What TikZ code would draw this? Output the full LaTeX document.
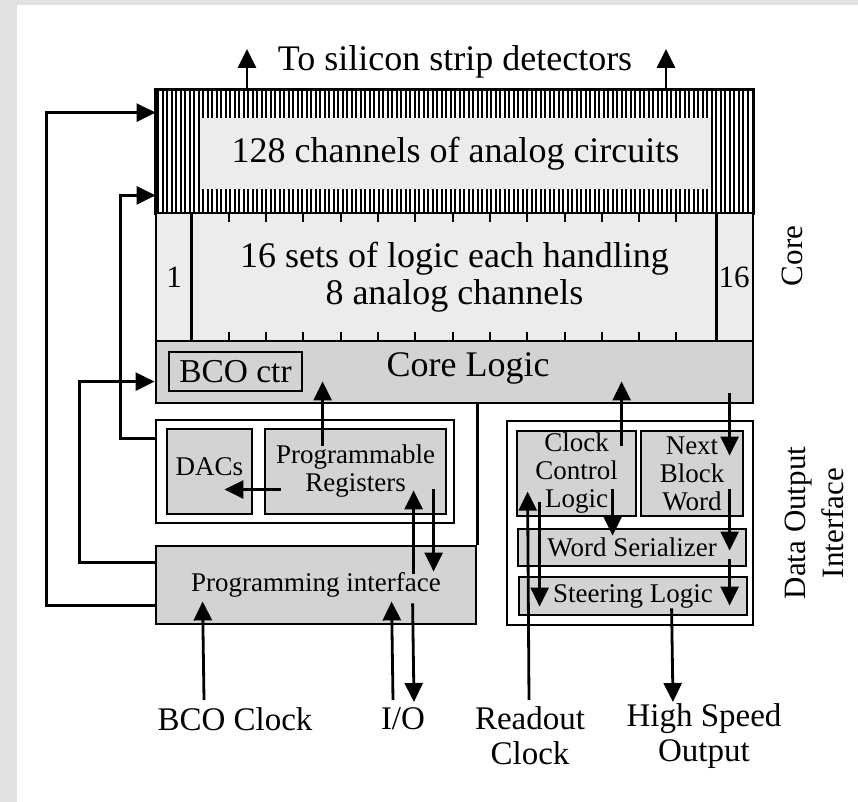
\documentclass[tikz,border=0pt]{standalone}
\usepackage{fontspec}
\setmainfont{Liberation Serif}
\usetikzlibrary{arrows.meta,calc}

\definecolor{chipgray}{RGB}{211,211,211}
\definecolor{chiplight}{RGB}{236,236,236}
\definecolor{paper}{RGB}{226,226,226}

\begin{document}
\begin{tikzpicture}[
    x=0.5pt, y=-0.5pt,
    % ---- styles -------------------------------------------------
    blk/.style={draw=black, line width=1.4pt, fill=chipgray,
        inner sep=0pt, align=center},
    frame/.style={blk, fill=white},
    lightblk/.style={blk, fill=chiplight},
    big/.style={font=\fontsize{18pt}{18.5pt}\selectfont},
    small/.style={font=\fontsize{13.5pt}{14pt}\selectfont},
    iolbl/.style={font=\fontsize{16.5pt}{17.5pt}\selectfont,
        align=center, inner sep=0pt},
    side/.style={font=\fontsize{15.5pt}{19pt}\selectfont,
        rotate=90, align=center, inner sep=0pt},
    sig/.style={-{Triangle[length=9.5pt,width=9pt]}, line width=1.4pt},
    tickmark/.style={line width=1pt},
]

% =================== page =====================================
\useasboundingbox (0,0) rectangle (858,802);
\fill[white] (0,0) rectangle (858,802);
\fill[paper] (0,0) rectangle (17,802);
\fill[paper] (0,0) rectangle (858,5);

% =================== CORE (top) ===============================
\node[minimum width=298.5pt, minimum height=61.5pt, inner sep=0pt] (analog) at (454.5,151.5) {};
\foreach \x in {2.5,7,...,595}
    \draw[line width=1pt] ($(analog.north west)+(\x,0)$) -- ($(analog.south west)+(\x,0)$);
\draw[line width=1.4pt] (analog.north west) rectangle (analog.south east);
\node[minimum width=255.5pt, minimum height=35.5pt, inner sep=0pt, fill=chiplight, big]
    (anacore) at (455.5,153.5) {128 channels of analog circuits};

\node[lightblk, big, minimum width=298.5pt, minimum height=64pt] (sets) at (454.5,277)
    {16 sets of logic each handling\\ 8 analog channels};
\draw[line width=1.4pt] ($(sets.north west)+(37,0)$) -- ($(sets.south west)+(37,0)$);
\draw[line width=1.4pt] ($(sets.north east)+(-38,0)$) -- ($(sets.south east)+(-38,0)$);
\foreach \k in {1,...,13} {
    \draw[tickmark] ($(sets.north west)+(37+\k*37.29,0)$) -- ++(0,10);
    \draw[tickmark] ($(sets.south west)+(37+\k*37.29,0)$) -- ++(0,-10);
}
\node[font=\fontsize{15.5pt}{16pt}\selectfont] (first) at (174,277) {1};
\node[font=\fontsize{15.5pt}{16pt}\selectfont] (last)  at (734,277) {16};

\node[blk, minimum width=298.5pt, minimum height=31pt] (core) at (454.5,372) {};
\node[big] (corename) at (468,368) {Core Logic};
\node[blk, minimum width=66.5pt, minimum height=19.5pt,
      font=\fontsize{16.7pt}{17pt}\selectfont] (bco) at (235.5,371.5) {BCO ctr};

% =================== programming side (left) ==================
\node[frame, minimum width=149pt, minimum height=51.5pt] (regs) at (305,471.5) {};
\node[blk, small, minimum width=42.5pt, minimum height=42.5pt, text depth=5pt]
    (dacs) at (209.5,471.5) {DACs};
\node[blk, small, minimum width=90.5pt, minimum height=42.5pt] (preg) at (355.5,471.5)
    {Programmable\\ Registers};
\node[blk, small, minimum width=160pt, minimum height=39pt] (progif) at (316,585)
    {Programming interface};
\draw[line width=1.4pt] (progif.north east) -- (progif.north east |- core.south);

% =================== data output interface (right) ============
\node[frame, minimum width=123pt, minimum height=102pt] (doi) at (630,523) {};
\node[blk, small, minimum width=59.5pt, minimum height=42.5pt] (ccl) at (576.5,473.5)
    {Clock\\ Control\\ Logic};
\node[blk, small, minimum width=51pt, minimum height=42.5pt] (nbw) at (692,473.5)
    {Next\\ Block\\ Word};
\node[blk, small, minimum width=114pt, minimum height=18.5pt] (ws) at (632,547.5)
    {Word Serializer};
\node[blk, small, minimum width=114pt, minimum height=19pt] (steer) at (633,596)
    {Steering Logic};

% =================== labels ===================================
\node[big] (dest) at (455,62) {To silicon strip detectors};
\node[side] (corelbl) at (792,256) {Core};
\node[side] (doilbl) at (814,523) {Data Output\\ Interface};

\node[iolbl] (bcoclk) at (235,719) {BCO Clock};
\node[iolbl] (io) at (403,719) {I/O};
\node[iolbl] (rdclk) at (530,736) {Readout\\ Clock};
\node[iolbl] (hso) at (704,736) {High Speed\\ Output};

\coordinate (det1) at (247,49);
\coordinate (det2) at (666,49);
\coordinate (bcoin) at (204,700);
\coordinate (ioin) at (393,700);
\coordinate (ioout) at (414,702);
\coordinate (rdin) at (529,700);
\coordinate (hsout) at (673,702);

% =================== connections ==============================
\draw[sig] (det1 |- analog.north) -- (det1);
\draw[sig] (det2 |- analog.north) -- (det2);

\draw[sig] ($(progif.south west)+(0,-20)$) -- ++(-108,0) |- ($(analog.north west)+(0,23)$);
\draw[sig] ($(progif.north west)+(0,18)$) -- ++(-75,0) |- ($(core.north west)+(0,42)$);
\draw[sig] ($(regs.north west)+(0,20)$) -- ++(-34,0) |- ($(analog.south west)+(0,-18)$);

\draw[sig] ($(preg.north west)+(59,18)$) -- ($(core.south west)+(168,-23)$);
\draw[sig] ($(preg.west)+(17,18)$) -- ($(dacs.east)+(-29,18)$);
\draw[sig] ($(progif.north west)+(259,29)$) -- ($(preg.south west)+(150,-25)$);
\draw[sig] ($(preg.south west)+(170,-26)$) -- ($(progif.north west)+(279,27)$);

\draw[sig] (bcoin) -- ($(progif.south west)+(48,-24)$);
\draw[sig] (ioin) -- ($(progif.south west)+(237,-24)$);
\draw[sig] ($(progif.south west)+(258,-22)$) -- (ioout);

\draw[sig] ($(ccl.north west)+(106,16)$) -- ($(core.south west)+(467,-23)$);
\draw[sig] ($(core.south west)+(575,-11)$) -- ($(nbw.north west)+(90,26)$);
\draw[sig] ($(ccl.south west)+(97,-28)$) -- ($(ws.north west)+(96,8)$);
\draw[sig] ($(nbw.south west)+(90,-28)$) -- ($(ws.north west)+(213,23)$);
\draw[sig] ($(ws.south west)+(213,-8)$) -- ($(steer.north west)+(212,30)$);
\draw[sig] (rdin) -- ($(ccl.north west)+(12,62)$);
\draw[sig] ($(ccl.north west)+(24,72)$) -- ($(steer.north west)+(22,31)$);
\draw[sig] ($(steer.south west)+(154,-8)$) -- (hsout);

\end{tikzpicture}
\end{document}
